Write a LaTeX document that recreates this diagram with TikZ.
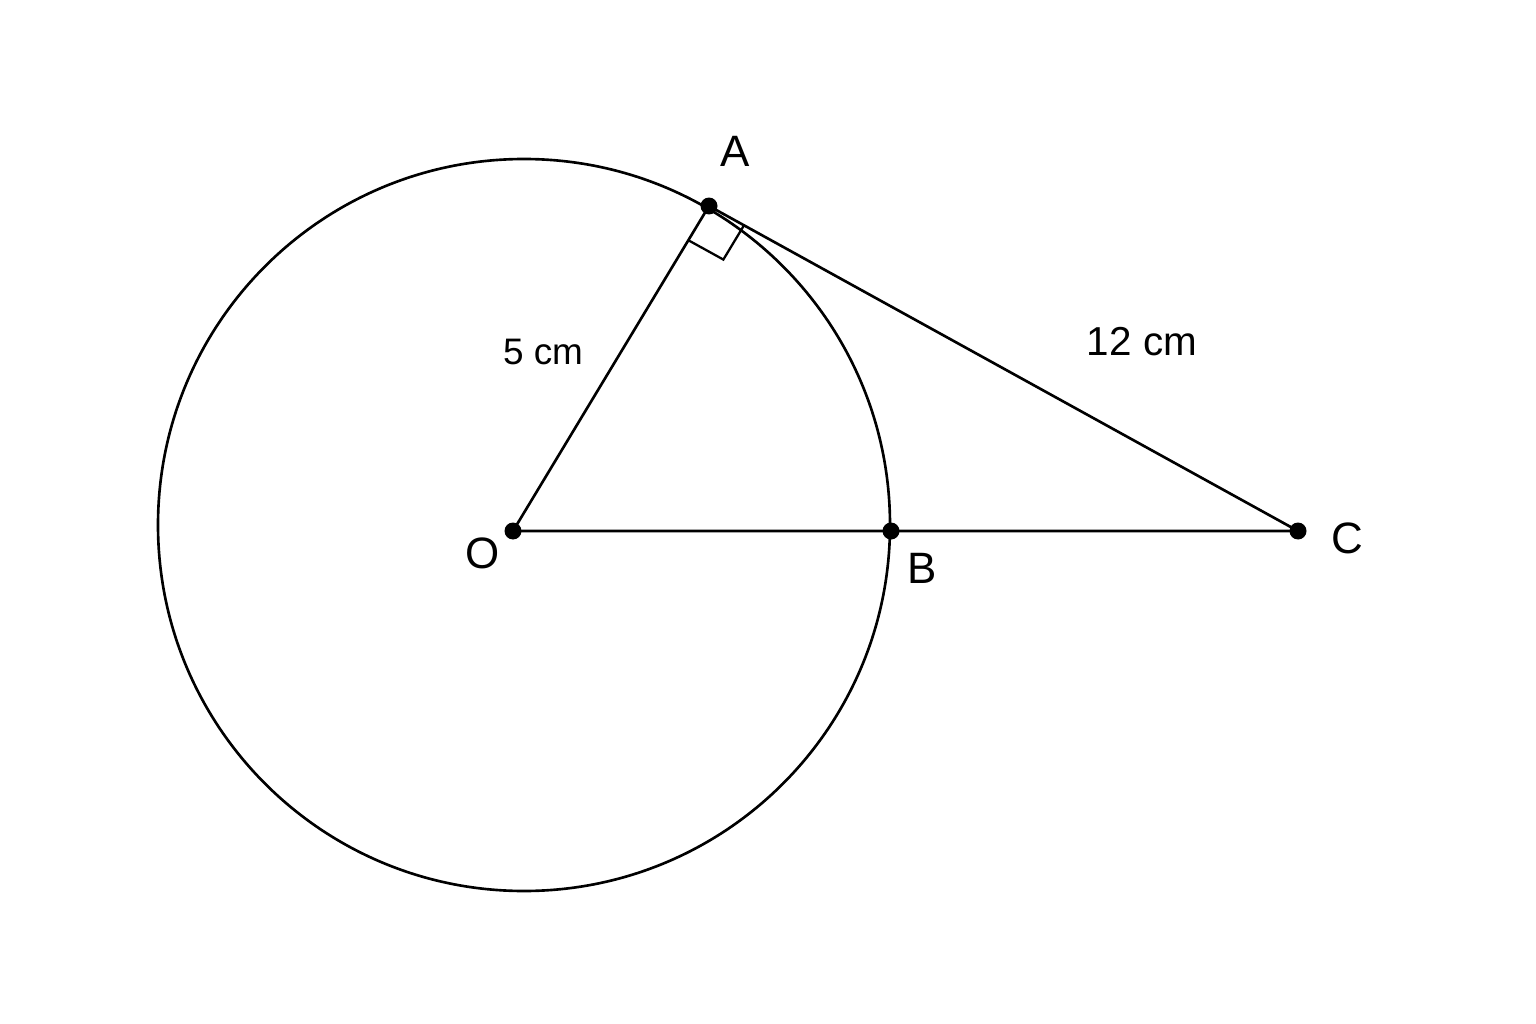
\documentclass[tikz,border=0pt]{standalone}
\usepackage{fontspec}
\setmainfont{Liberation Sans}
\usetikzlibrary{calc}
\begin{document}
\begin{tikzpicture}[x=0.02cm,y=-0.02cm,
  geo/.style={line width=1.5pt, black},
  dotpt/.style={circle, fill=black, inner sep=0pt, minimum size=0.34cm},
  lbl/.style={font=\fontsize{25}{28}\selectfont, inner sep=0pt}]
\useasboundingbox[fill=white] (0,0) rectangle (1536,1024);
% points
\coordinate (Oc) at (524,525);
\node[dotpt] (A) at (709,206) {};
\node[dotpt] (O) at (513,531) {};
\node[dotpt] (B) at (891,531) {};
\node[dotpt] (C) at (1298,531) {};
% circle
\draw[geo] (Oc) circle[radius=366];
% segments
\draw[geo] (O.center) -- (A.center) -- (C.center) -- (O.center);
% right angle mark
\coordinate (m1) at ($(A.center)!0.8cm!(O.center)$);
\coordinate (m3) at ($(A.center)!0.8cm!(C.center)$);
\draw[geo, line width=1.3pt] (m1) -- ($(m1)+(m3)-(A.center)$) -- (m3);
% labels
\node[lbl] (lA) at (735,151) {A};
\node[lbl] (lO) at (483,553) {O};
\node[lbl] (lB) at (922,568) {B};
\node[lbl] (lC) at (1347,538) {C};
\node[lbl, font=\fontsize{21}{24}\selectfont] (l5) at (543,352) {5 cm};
\node[lbl, font=\fontsize{23}{26}\selectfont] (l12) at (1142,342) {12 cm};
\end{tikzpicture}
\end{document}
